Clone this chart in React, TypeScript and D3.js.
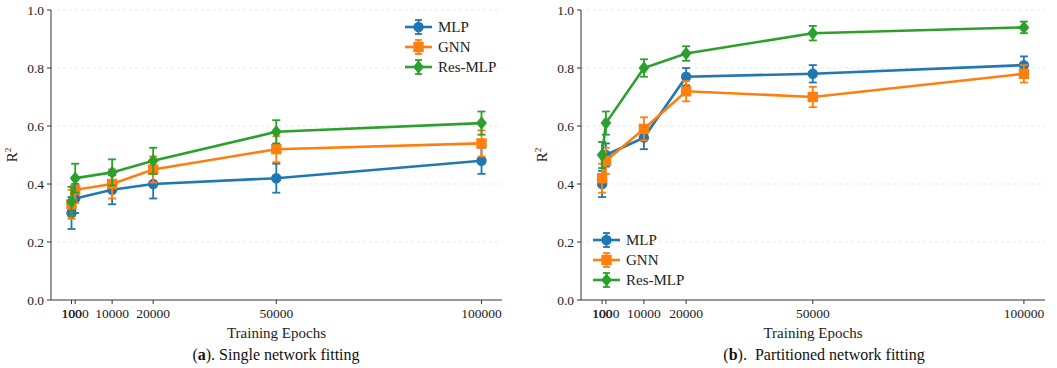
import React from "react";
import * as d3 from "d3";

const epochs = [100, 1000, 10000, 20000, 50000, 100000];
const xTicks = [100, 1000, 10000, 20000, 50000, 100000];
const yTicks = [0, 0.2, 0.4, 0.6, 0.8, 1.0];
const seriesNames = ["MLP", "GNN", "Res-MLP"];
const colors = ["#1f77b4", "#ff7f0e", "#2ca02c"];
const markers = ["circle", "square", "diamond"];

// Panel (a): single network fitting
const aMLP = [0.30, 0.35, 0.38, 0.40, 0.42, 0.48];
const aMLPErr = [0.055, 0.05, 0.05, 0.05, 0.05, 0.045];
const aGNN = [0.33, 0.38, 0.40, 0.45, 0.52, 0.54];
const aGNNErr = [0.05, 0.045, 0.05, 0.045, 0.045, 0.045];
const aRes = [0.34, 0.42, 0.44, 0.48, 0.58, 0.61];
const aResErr = [0.05, 0.05, 0.045, 0.045, 0.04, 0.04];

// Panel (b): partitioned network fitting
const bMLP = [0.40, 0.50, 0.56, 0.77, 0.78, 0.81];
const bMLPErr = [0.045, 0.04, 0.04, 0.03, 0.03, 0.03];
const bGNN = [0.42, 0.48, 0.59, 0.72, 0.70, 0.78];
const bGNNErr = [0.05, 0.045, 0.04, 0.035, 0.035, 0.03];
const bRes = [0.50, 0.61, 0.80, 0.85, 0.92, 0.94];
const bResErr = [0.045, 0.04, 0.03, 0.025, 0.025, 0.02];

const FONT = "Liberation Serif, DejaVu Serif, serif";

function Marker({ type, x, y, color, size = 5.2 }: any) {
  if (type === "circle") return <circle cx={x} cy={y} r={size} fill={color} />;
  if (type === "square")
    return <rect x={x - size} y={y - size} width={size * 2} height={size * 2} fill={color} />;
  const s = size * 1.3;
  return (
    <path d={`M${x},${y - s}L${x + s * 0.8},${y}L${x},${y + s}L${x - s * 0.8},${y}Z`} fill={color} />
  );
}

function Panel({ left, right, values, errs, legendX, legendY, letter, caption, captionX }: any) {
  const top = 10;
  const bottom = 300;
  const x = d3.scaleLinear().domain([-4895, 104995]).range([left, right]);
  const y = d3.scaleLinear().domain([0, 1]).range([bottom, top]);
  const line = d3
    .line<number>()
    .x((_, i) => x(epochs[i]))
    .y((d) => y(d));
  return (
    <g style={{ fontFamily: FONT }}>
      {yTicks.slice(1).map((t) => (
        <line key={t} x1={left} x2={right} y1={y(t)} y2={y(t)} stroke="#e2e2e2" strokeWidth={0.8} strokeDasharray="3,3" />
      ))}
      {values.map((vals: number[], si: number) => (
        <g key={si}>
          <path d={line(vals) || ""} fill="none" stroke={colors[si]} strokeWidth={2.6} />
          {vals.map((v, i) => {
            const cx = x(epochs[i]);
            const e = errs[si][i];
            return (
              <g key={i} stroke={colors[si]} strokeWidth={1.8}>
                <line x1={cx} x2={cx} y1={y(v - e)} y2={y(v + e)} />
                <line x1={cx - 4} x2={cx + 4} y1={y(v - e)} y2={y(v - e)} />
                <line x1={cx - 4} x2={cx + 4} y1={y(v + e)} y2={y(v + e)} />
              </g>
            );
          })}
          {vals.map((v, i) => (
            <Marker key={i} type={markers[si]} x={x(epochs[i])} y={y(v)} color={colors[si]} />
          ))}
        </g>
      ))}
      <line x1={left} x2={left} y1={top} y2={bottom} stroke="#333" strokeWidth={1} />
      <line x1={left} x2={right} y1={bottom} y2={bottom} stroke="#333" strokeWidth={1} />
      {yTicks.map((t) => (
        <g key={t}>
          <line x1={left - 4} x2={left} y1={y(t)} y2={y(t)} stroke="#333" />
          <text x={left - 7} y={y(t) + 4.5} textAnchor="end" fontSize={13.5} fill="#222">
            {t.toFixed(1)}
          </text>
        </g>
      ))}
      {xTicks.map((t) => (
        <g key={t}>
          <line x1={x(t)} x2={x(t)} y1={bottom} y2={bottom + 4} stroke="#333" />
          <text x={x(t)} y={bottom + 18} textAnchor="middle" fontSize={13.5} fill="#222">
            {t}
          </text>
        </g>
      ))}
      <text x={(left + right) / 2} y={338} textAnchor="middle" fontSize={15} fill="#222">
        Training Epochs
      </text>
      <text
        transform={`translate(${left - 34},${(top + bottom) / 2}) rotate(-90)`}
        textAnchor="middle"
        fontSize={15}
        fill="#222"
      >
        R<tspan fontSize={9} dy={-6}>2</tspan>
      </text>
      <text x={captionX} y={360} textAnchor="middle" fontSize={16} fill="#111">
        (<tspan fontWeight="bold">{letter}</tspan>). {caption}
      </text>
      {seriesNames.map((n, si) => {
        const ly = legendY + si * 20;
        return (
          <g key={n}>
            <line x1={legendX} x2={legendX + 27} y1={ly} y2={ly} stroke={colors[si]} strokeWidth={2.6} />
            <g stroke={colors[si]} strokeWidth={1.8}>
              <line x1={legendX + 13.5} x2={legendX + 13.5} y1={ly - 7} y2={ly + 7} />
              <line x1={legendX + 10} x2={legendX + 17} y1={ly - 7} y2={ly - 7} />
              <line x1={legendX + 10} x2={legendX + 17} y1={ly + 7} y2={ly + 7} />
            </g>
            <Marker type={markers[si]} x={legendX + 13.5} y={ly} color={colors[si]} />
            <text x={legendX + 33} y={ly + 5} fontSize={15} fill="#222">
              {n}
            </text>
          </g>
        );
      })}
    </g>
  );
}

export default function App() {
  return (
    <svg
      width={1057}
      height={368}
      style={{ position: "absolute", left: 0, top: 0, background: "#fff" }}
    >
      <Panel
        left={51}
        right={502}
        values={[aMLP, aGNN, aRes]}
        errs={[aMLPErr, aGNNErr, aResErr]}
        legendX={405}
        legendY={27}
        letter="a"
        caption="Single network fitting"
        captionX={276}
      />
      <Panel
        left={581}
        right={1045}
        values={[bMLP, bGNN, bRes]}
        errs={[bMLPErr, bGNNErr, bResErr]}
        legendX={593}
        legendY={240}
        letter="b"
        caption={"\u00a0Partitioned network fitting"}
        captionX={824}
      />
    </svg>
  );
}
